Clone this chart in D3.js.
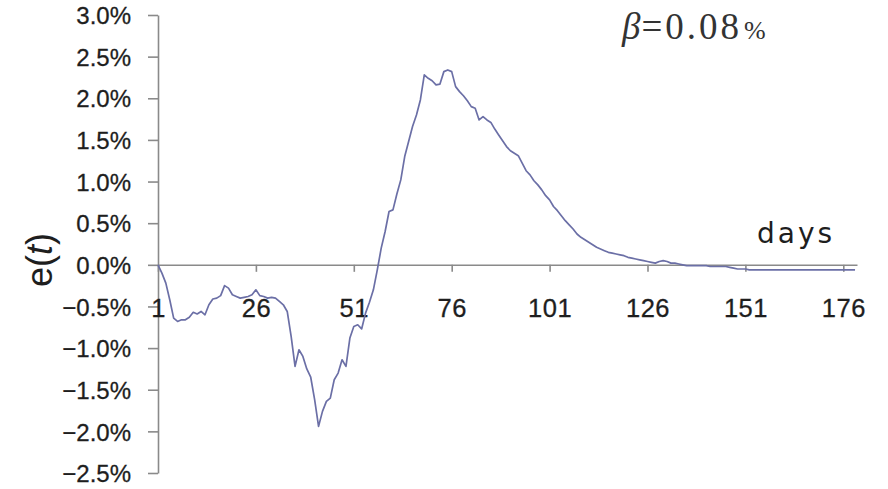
<!DOCTYPE html>
<html>
<head>
<meta charset="utf-8">
<script src="https://cdn.jsdelivr.net/npm/d3@7"></script>
<style>
  body { margin: 0; background: #fff; }
  svg { display: block; }
</style>
</head>
<body>
<script>
// e(t) in percent, one value per day
const errorPct = [
   0.00, -0.10, -0.22, -0.42, -0.64, -0.68, -0.66, -0.66, -0.63, -0.57,
  -0.59, -0.56, -0.60, -0.48, -0.41, -0.40, -0.37, -0.25, -0.28, -0.36,
  -0.38, -0.40, -0.39, -0.38, -0.36, -0.30, -0.37, -0.38, -0.40, -0.39,
  -0.40, -0.44, -0.48, -0.56, -0.86, -1.22, -1.02, -1.10, -1.25, -1.35,
  -1.62, -1.94, -1.76, -1.64, -1.60, -1.38, -1.30, -1.14, -1.22, -0.88,
  -0.74, -0.72, -0.77, -0.58, -0.45, -0.30, -0.06,  0.20,  0.40,  0.64,
   0.66,  0.85,  1.02,  1.30,  1.48,  1.66,  1.80,  1.98,  2.28,  2.24,
   2.21,  2.16,  2.17,  2.32,  2.34,  2.32,  2.14,  2.08,  2.03,  1.97,
   1.90,  1.88,  1.74,  1.78,  1.74,  1.71,  1.63,  1.56,  1.49,  1.42,
   1.37,  1.34,  1.31,  1.22,  1.13,  1.08,  1.01,  0.96,  0.90,  0.83,
   0.78,  0.70,  0.65,  0.59,  0.53,  0.48,  0.43,  0.37,  0.33,  0.30,
   0.27,  0.24,  0.21,  0.19,  0.17,  0.15,  0.14,  0.13,  0.12,  0.11,
   0.09,  0.08,  0.07,  0.06,  0.05,  0.04,  0.03,  0.02,  0.04,  0.05,
   0.04,  0.02,  0.02,  0.01,  0.00, -0.01, -0.01, -0.01, -0.01, -0.01,
  -0.01, -0.02, -0.02, -0.02, -0.02, -0.02, -0.03, -0.04, -0.05, -0.05,
  -0.05, -0.06, -0.06, -0.06, -0.06, -0.06, -0.06, -0.06, -0.06, -0.06,
  -0.06, -0.06, -0.06, -0.06, -0.06, -0.06, -0.06, -0.06, -0.06, -0.06,
  -0.06, -0.06, -0.06, -0.06, -0.06, -0.06, -0.06, -0.06, -0.06
];
const days = errorPct.map((v, i) => i + 1);

const xTicks = [1, 26, 51, 76, 101, 126, 151, 176];
const yTicks = [3.0, 2.5, 2.0, 1.5, 1.0, 0.5, 0.0, -0.5, -1.0, -1.5, -2.0, -2.5];
const betaLabel = '0.08';

const width = 888, height = 489;
const axisColor = '#8a8a8a';
const lineColor = '#6b6fa6';
const textColor = '#1e1e1e';

const svg = d3.select('body')
    .append('svg')
    .attr('width', width)
    .attr('height', height);

const x = d3.scaleLinear()
    .domain([1, 179.5])
    .range([158, 857]);

const y = d3.scaleLinear()
    .domain([-2.5, 3.0])
    .range([473, 15]);

const fmtPct = d => (d < 0 ? '\u2212' : '') + Math.abs(d).toFixed(1) + '%';

// y axis
const yAxis = svg.append('g')
    .attr('transform', `translate(${x(1)},0)`)
    .call(d3.axisLeft(y)
        .tickValues(yTicks)
        .tickFormat(fmtPct)
        .tickSize(10)
        .tickSizeOuter(0)
        .tickPadding(17));

yAxis.selectAll('text')
    .attr('font-family', 'Liberation Sans, Arial, sans-serif')
    .attr('font-size', 24)
    .attr('fill', textColor)
    .attr('stroke', textColor)
    .attr('stroke-width', 0.3)
    .attr('dy', '0.36em');

// x axis sitting on zero
const xAxis = svg.append('g')
    .attr('transform', `translate(0,${y(0)})`)
    .call(d3.axisBottom(x)
        .tickValues(xTicks)
        .tickFormat(d3.format('d'))
        .tickSize(7)
        .tickSizeOuter(0));

xAxis.selectAll('text')
    .attr('font-family', 'Liberation Sans, Arial, sans-serif')
    .attr('font-size', 25.5)
    .attr('letter-spacing', 0.5)
    .attr('fill', textColor)
    .attr('stroke', textColor)
    .attr('stroke-width', 0.3)
    .attr('y', 52)
    .attr('dy', 0);

svg.selectAll('.domain, .tick line')
    .attr('stroke', axisColor)
    .attr('stroke-width', 1.6);

// the series
const line = d3.line()
    .x((d, i) => x(days[i]))
    .y(d => y(d));

svg.append('path')
    .datum(errorPct)
    .attr('fill', 'none')
    .attr('stroke', lineColor)
    .attr('stroke-width', 1.7)
    .attr('stroke-linejoin', 'round')
    .attr('d', line);

// axis titles
svg.append('text')
    .attr('transform', `translate(52,260) rotate(-90)`)
    .attr('text-anchor', 'middle')
    .attr('font-family', 'Liberation Sans, Arial, sans-serif')
    .attr('font-size', 36)
    .attr('fill', textColor)
    .html('e(<tspan font-style="italic">t</tspan>)');

svg.append('text')
    .attr('x', 757)
    .attr('y', 243)
    .attr('font-family', 'DejaVu Sans, sans-serif')
    .attr('font-size', 28)
    .attr('letter-spacing', 3)
    .attr('fill', textColor)
    .text('days');

const beta = svg.append('text')
    .attr('x', 622)
    .attr('y', 39)
    .attr('font-family', 'Liberation Serif, Times New Roman, serif')
    .attr('font-size', 37)
    .attr('fill', '#333');
beta.append('tspan').attr('font-style', 'italic').text('\u03b2');
beta.append('tspan').attr('dx', 1).attr('letter-spacing', 3).text('=' + betaLabel);
beta.append('tspan').attr('font-size', 26).attr('dx', 2).text('%');
</script>
</body>
</html>
